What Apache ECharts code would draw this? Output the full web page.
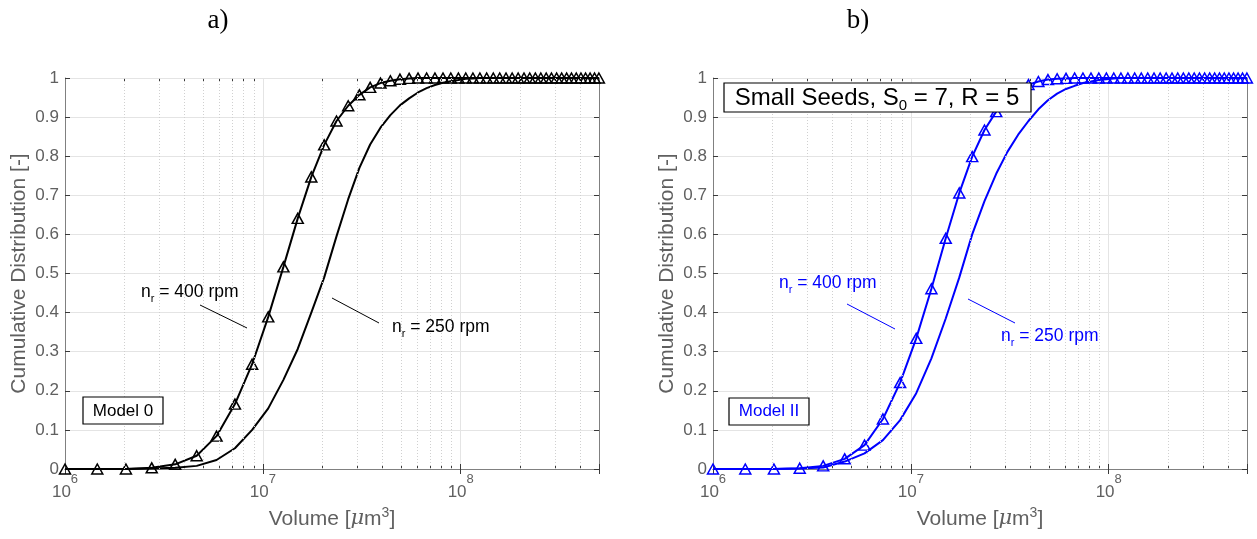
<!DOCTYPE html>
<html><head><meta charset="utf-8">
<script src="https://cdn.jsdelivr.net/npm/echarts@6/dist/echarts.min.js"></script>
<style>html,body{margin:0;padding:0;background:#fff}#c{width:1257px;height:539px}</style>
</head><body><div id="c"></div>
<script>
// Particle volumes [µm^3] (x grid shared by all curves)
const volumes = [1.000e6, 1.456e6, 2.032e6, 2.744e6, 3.605e6, 4.630e6, 5.832e6, 7.226e6, 8.827e6,
  1.0648e7, 1.2703e7, 1.5009e7, 1.7576e7, 2.0420e7, 2.3558e7, 2.7000e7, 3.0761e7, 3.4860e7, 3.9304e7,
  4.4110e7, 4.9298e7, 5.4872e7, 6.0851e7, 6.7255e7, 7.4088e7, 8.1369e7, 8.9117e7, 9.7336e7,
  1.06045e8, 1.15267e8, 1.25000e8, 1.35266e8, 1.46088e8, 1.57464e8, 1.69415e8, 1.81967e8, 1.95112e8,
  2.08876e8, 2.23284e8, 2.38328e8, 2.54033e8, 2.70426e8, 2.87496e8, 3.05270e8, 3.23776e8, 3.43000e8,
  3.62971e8, 3.83718e8, 4.05224e8, 4.27520e8, 4.50636e8, 4.74552e8, 4.99301e8];

// Panel a) Model 0
const cdfA400 = [0, 0, 0, 0.003, 0.012, 0.034, 0.084, 0.166, 0.268, 0.389, 0.517, 0.641, 0.747, 0.829,
  0.890, 0.929, 0.957, 0.976, 0.987, 0.993, 0.997, 0.999,
  1, 1, 1, 1, 1, 1, 1, 1, 1, 1, 1, 1, 1, 1, 1, 1, 1, 1, 1, 1, 1, 1, 1, 1, 1, 1, 1, 1, 1, 1, 1];
const cdfA250 = [0, 0, 0, 0.001, 0.003, 0.008, 0.023, 0.053, 0.100, 0.155, 0.228, 0.307, 0.400, 0.490,
  0.595, 0.690, 0.770, 0.830, 0.873, 0.905, 0.930, 0.948, 0.963, 0.974, 0.982, 0.988, 0.992, 0.995,
  0.998, 0.999, 1, 1, 1, 1, 1, 1, 1, 1, 1, 1, 1, 1, 1, 1, 1, 1, 1, 1, 1, 1, 1, 1, 1];

// Panel b) Model II
const cdfB400 = [0, 0, 0, 0.002, 0.008, 0.026, 0.061, 0.128, 0.221, 0.334, 0.461, 0.590, 0.706, 0.799,
  0.867, 0.914, 0.948, 0.970, 0.983, 0.991, 0.996, 0.998, 0.999,
  1, 1, 1, 1, 1, 1, 1, 1, 1, 1, 1, 1, 1, 1, 1, 1, 1, 1, 1, 1, 1, 1, 1, 1, 1, 1, 1, 1, 1, 1];
const cdfB250 = [0, 0, 0, 0.001, 0.004, 0.019, 0.040, 0.074, 0.125, 0.194, 0.283, 0.385, 0.490, 0.600,
  0.685, 0.755, 0.811, 0.855, 0.890, 0.920, 0.943, 0.960, 0.972, 0.980, 0.987, 0.991, 0.995, 0.997,
  0.999, 1, 1, 1, 1, 1, 1, 1, 1, 1, 1, 1, 1, 1, 1, 1, 1, 1, 1, 1, 1, 1, 1, 1, 1];

const xMin = 1e6, xMax = 5e8;
const minorTicks = [2e6, 3e6, 4e6, 5e6, 6e6, 7e6, 8e6, 9e6,
  2e7, 3e7, 4e7, 5e7, 6e7, 7e7, 8e7, 9e7, 2e8, 3e8, 4e8];
const panelTitles = ['a)', 'b)'];
const panelColors = ['#000000', '#0000ff'];

const FONT = 'Liberation Sans, Arial, Helvetica, sans-serif';
const AX = '#808080', TK = '#3a3a3a', LBL = '#606060', GRID = '#e4e4e4', NAME = '#606060';
const grids = [
  { left: 65, top: 78, width: 534, height: 391 },
  { left: 713, top: 78, width: 534, height: 391 }
];

function pairs(ys) { return volumes.map((v, i) => [v, ys[i]]); }
function pow10Label(v) {
  const l = Math.log10(v), e = Math.round(l);
  if (Math.abs(l - e) > 1e-6) return '';
  return '{b|10}{s|' + e + '}';
}

const xAxes = [], yAxes = [], series = [];
grids.forEach((g, p) => {
  xAxes.push({
    gridIndex: p, type: 'log', logBase: 10, min: xMin, max: xMax, position: 'bottom',
    axisLine: { show: true, lineStyle: { color: AX, width: 1 } },
    axisTick: { show: true, inside: true, length: 5, lineStyle: { color: TK } },
    axisLabel: {
      formatter: pow10Label, margin: 4, color: LBL, fontFamily: FONT,
      rich: {
        b: { fontSize: 17, color: LBL, fontFamily: FONT, lineHeight: 28, verticalAlign: 'bottom' },
        s: { fontSize: 13, color: LBL, fontFamily: FONT, lineHeight: 28, verticalAlign: 'top' }
      }
    },
    splitLine: { show: true, lineStyle: { color: GRID, width: 1 } },
    name: 'Volume [{mu|μ}m{s|3}]', nameLocation: 'middle', nameGap: 37,
    nameTextStyle: {
      fontSize: 21, color: NAME, fontFamily: FONT,
      rich: {
        mu: { fontSize: 21, fontStyle: 'italic', fontFamily: 'DejaVu Serif, serif', color: NAME },
        s: { fontSize: 14, verticalAlign: 'top', color: NAME, fontFamily: FONT, lineHeight: 26 }
      }
    }
  });
  xAxes.push({
    gridIndex: p, type: 'log', logBase: 10, min: xMin, max: xMax, position: 'top',
    axisLine: { show: true, lineStyle: { color: AX, width: 1 } },
    axisTick: { show: true, inside: true, length: 5, lineStyle: { color: TK } },
    axisLabel: { show: false }, splitLine: { show: false }
  });
  ['bottom', 'top'].forEach(pos => {
    xAxes.push({
      gridIndex: p, type: 'value', min: 6, max: Math.log10(xMax), position: pos,
      axisLine: { show: false },
      axisTick: { show: true, inside: true, length: 3, lineStyle: { color: TK },
        customValues: minorTicks.map(v => Math.log10(v)) },
      axisLabel: { show: false }, splitLine: { show: false }
    });
  });
  yAxes.push({
    gridIndex: p, type: 'value', min: 0, max: 1, interval: 0.1, position: 'left',
    axisLine: { show: true, lineStyle: { color: AX, width: 1 } },
    axisTick: { show: true, inside: true, length: 5, lineStyle: { color: TK } },
    axisLabel: { fontSize: 17, color: LBL, fontFamily: FONT, margin: 6 },
    splitLine: { show: true, lineStyle: { color: GRID, width: 1 } },
    name: 'Cumulative Distribution [-]', nameLocation: 'middle', nameGap: 35,
    nameTextStyle: { fontSize: 21, color: NAME, fontFamily: FONT }
  });
  yAxes.push({
    gridIndex: p, type: 'value', min: 0, max: 1, interval: 0.1, position: 'right',
    axisLine: { show: true, lineStyle: { color: AX, width: 1 } },
    axisTick: { show: true, inside: true, length: 5, lineStyle: { color: TK } },
    axisLabel: { show: false }, splitLine: { show: false }
  });
  const col = panelColors[p];
  const d250 = p === 0 ? cdfA250 : cdfB250;
  const d400 = p === 0 ? cdfA400 : cdfB400;
  series.push({
    type: 'line', name: 'nr = 250 rpm', xAxisIndex: p * 4, yAxisIndex: p * 2,
    data: pairs(d250), showSymbol: false, symbol: 'none', clip: false, z: 3,
    lineStyle: { color: col, width: 2 }, itemStyle: { color: col },
    markLine: {
      silent: true, symbol: ['none', 'none'], label: { show: false }, animation: false,
      lineStyle: { color: '#d0d0d0', type: [1, 2], width: 1 },
      emphasis: { disabled: true },
      data: minorTicks.map(v => ({ xAxis: v }))
    }
  });
  series.push({
    type: 'line', name: 'nr = 400 rpm', xAxisIndex: p * 4, yAxisIndex: p * 2,
    data: pairs(d400), symbol: 'triangle', symbolSize: [11, 10], showAllSymbol: true, clip: false, z: 4,
    lineStyle: { color: col, width: 2 },
    itemStyle: { color: 'rgba(255,255,255,0)', borderColor: col, borderWidth: 1.5 }
  });
});

function label(x, y, main, color) {
  return {
    type: 'text', x: x, y: y, z: 100,
    style: {
      text: '{a|n}{r|r}{a| = ' + main + '}', fill: color,
      verticalAlign: 'middle', textVerticalAlign: 'middle', align: 'left', textAlign: 'left',
      rich: {
        a: { fontSize: 17.5, fontFamily: FONT, fill: color, lineHeight: 24, verticalAlign: 'middle' },
        r: { fontSize: 11, fontFamily: FONT, fill: color, lineHeight: 24, verticalAlign: 'bottom' }
      }
    }
  };
}
function leader(x1, y1, x2, y2, color) {
  return { type: 'line', z: 100, shape: { x1, y1, x2, y2 }, style: { stroke: color, lineWidth: 1 } };
}
function box(x, y, w, h) {
  return { type: 'rect', z: 99, shape: { x, y, width: w, height: h },
    style: { fill: '#ffffff', stroke: '#000000', lineWidth: 1.2 } };
}
function ctext(x, y, txt, size, color) {
  return { type: 'text', z: 101, x, y,
    style: { text: txt, fill: color, fontSize: size, fontFamily: FONT,
      align: 'center', verticalAlign: 'middle', textAlign: 'center', textVerticalAlign: 'middle' } };
}

const graphics = [
  { type: 'text', x: 218, y: 21, z: 100, style: { text: panelTitles[0], fontSize: 27, fontFamily: 'Liberation Serif, DejaVu Serif, serif',
      fill: '#000', align: 'center', verticalAlign: 'middle', textAlign: 'center', textVerticalAlign: 'middle' } },
  { type: 'text', x: 858, y: 21, z: 100, style: { text: panelTitles[1], fontSize: 27, fontFamily: 'Liberation Serif, DejaVu Serif, serif',
      fill: '#000', align: 'center', verticalAlign: 'middle', textAlign: 'center', textVerticalAlign: 'middle' } },
  label(141, 292, '400 rpm', '#000'),
  leader(200, 305, 247, 328, '#000'),
  label(392, 327, '250 rpm', '#000'),
  leader(332, 298, 379, 323, '#000'),
  box(83, 397, 80, 27),
  ctext(123, 411, 'Model 0', 17, '#000'),
  label(779, 283, '400 rpm', '#0000ff'),
  leader(847, 304, 895, 329, '#0000ff'),
  label(1001, 336, '250 rpm', '#0000ff'),
  leader(968, 299, 1015, 323, '#0000ff'),
  box(729, 398, 80, 27),
  ctext(769, 411.5, 'Model II', 17, '#0000ff'),
  box(724, 83, 307, 29),
  { type: 'text', z: 101, x: 877, y: 98,
    style: { text: 'Small Seeds, S{s|0} = 7, R = 5', fill: '#000', fontSize: 24, fontFamily: FONT,
      align: 'center', verticalAlign: 'middle', textAlign: 'center', textVerticalAlign: 'middle',
      rich: { s: { fontSize: 15, fontFamily: FONT, fill: '#000', verticalAlign: 'bottom', lineHeight: 30 } } } }
];

const chart = echarts.init(document.getElementById('c'), null, { renderer: 'canvas' });
chart.setOption({
  animation: false,
  backgroundColor: '#ffffff',
  grid: grids.map(g => Object.assign({ containLabel: false }, g)),
  xAxis: xAxes,
  yAxis: yAxes,
  series: series,
  graphic: graphics
});
</script></body></html>
